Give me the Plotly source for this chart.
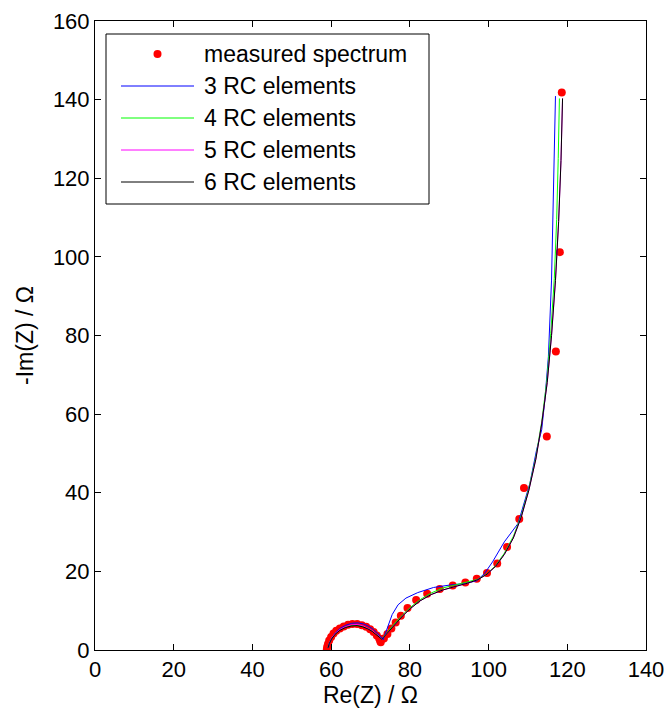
import plotly.graph_objects as go

# measured spectrum
meas_re = [58.9, 59.0, 59.2, 59.5, 60.0, 60.6, 61.3, 62.2, 63.2, 64.3, 65.4, 66.6, 67.8, 68.9,
           69.9, 70.8, 71.6, 72.2, 72.5, 72.6, 73.4, 74.3, 75.3, 76.4, 77.7, 79.4, 81.6, 84.4,
           87.6, 90.9, 94.1, 97.0, 99.6, 102.2, 104.7, 107.8, 109.0, 114.8, 117.1, 118.1, 118.6]
meas_im = [0.2, 0.8, 1.5, 2.4, 3.3, 4.2, 4.9, 5.5, 6.0, 6.4, 6.6, 6.6, 6.3, 5.9,
           5.3, 4.6, 3.7, 2.9, 2.2, 2.0, 2.9, 4.1, 5.5, 7.0, 8.7, 10.7, 12.7, 14.3,
           15.5, 16.4, 17.2, 18.1, 19.6, 22.0, 26.2, 33.3, 41.2, 54.3, 75.9, 101.2, 141.8]

# 3 RC elements fit
rc3_re = [59.3, 59.6, 60.2, 61.1, 62.3, 63.7, 65.2, 66.8, 68.3, 69.6, 70.8, 71.8, 72.6, 73.2,
          73.7, 74.5, 75.5, 77.0, 79.0, 82.0, 86.0, 90.0, 94.0, 97.0, 99.0, 101.0, 104.0,
          107.5, 110.5, 112.2, 113.5, 114.3, 115.2, 116.0, 116.6, 117.0]
rc3_im = [0.6, 1.8, 3.1, 4.4, 5.5, 6.3, 6.8, 6.9, 6.6, 6.0, 5.2, 4.3, 3.4, 2.6,
          4.0, 6.5, 9.0, 11.5, 13.2, 14.6, 15.9, 16.5, 16.9, 17.6, 19.5, 22.4, 27.5,
          32.2, 42.4, 50.9, 56.0, 63.6, 74.6, 94.1, 119.6, 140.9]

# 4 RC elements fit
rc4_re = [59.2, 59.5, 60.1, 61.0, 62.2, 63.6, 65.1, 66.6, 68.0, 69.3, 70.5, 71.5, 72.3, 72.8,
          73.3, 74.2, 75.3, 76.6, 78.2, 80.2, 82.6, 85.4, 88.5, 91.7, 94.7, 97.3, 99.6, 101.8,
          104.0, 106.3, 108.3, 110.2, 112.0, 113.5, 114.8, 115.8, 116.7, 117.3, 117.7, 118.0]
rc4_im = [0.5, 1.7, 2.9, 4.1, 5.1, 5.8, 6.2, 6.3, 6.0, 5.5, 4.8, 4.0, 3.3, 2.9,
          3.3, 4.4, 5.8, 7.3, 9.0, 10.9, 12.8, 14.5, 15.8, 16.6, 17.2, 18.0, 19.4, 21.5,
          24.6, 28.9, 34.2, 41.0, 49.0, 58.0, 68.5, 80.5, 94.5, 109.5, 125.0, 140.3]

# 5 RC elements fit
rc5_re = [59.2, 59.5, 60.1, 61.0, 62.2, 63.6, 65.1, 66.6, 68.0, 69.3, 70.5, 71.5, 72.3, 72.8,
          73.3, 74.2, 75.3, 76.6, 78.2, 80.2, 82.6, 85.4, 88.5, 91.7, 94.7, 97.3, 99.6, 101.8,
          104.0, 106.3, 108.3, 110.2, 112.0, 113.5, 114.9, 116.0, 117.0, 117.8, 118.4, 118.8]
rc5_im = [0.5, 1.7, 3.0, 4.2, 5.2, 5.9, 6.4, 6.5, 6.2, 5.6, 4.9, 4.0, 3.3, 2.9,
          3.2, 4.2, 5.5, 7.0, 8.7, 10.6, 12.5, 14.1, 15.3, 16.2, 17.0, 17.9, 19.3, 21.3,
          24.3, 28.5, 33.8, 40.5, 48.5, 57.5, 68.0, 80.0, 94.0, 109.0, 124.5, 140.3]

# 6 RC elements fit
rc6_re = [59.2, 59.5, 60.1, 61.0, 62.2, 63.6, 65.1, 66.6, 68.0, 69.3, 70.5, 71.5, 72.3, 72.8,
          73.3, 74.2, 75.3, 76.6, 78.2, 80.2, 82.6, 85.4, 88.5, 91.7, 94.7, 97.3, 99.6, 101.8,
          104.0, 106.3, 108.3, 110.2, 112.0, 113.5, 114.9, 116.0, 117.0, 117.8, 118.4, 118.8]
rc6_im = [0.5, 1.6, 2.8, 4.0, 5.0, 5.7, 6.1, 6.2, 5.9, 5.4, 4.7, 3.9, 3.2, 2.8,
          3.2, 4.2, 5.5, 7.0, 8.7, 10.6, 12.5, 14.1, 15.3, 16.2, 17.0, 17.9, 19.3, 21.3,
          24.3, 28.5, 33.8, 40.5, 48.5, 57.5, 68.0, 80.0, 94.0, 109.0, 124.5, 140.3]

series_names = ["measured spectrum", "3 RC elements", "4 RC elements",
                "5 RC elements", "6 RC elements"]
fit_colors = ["#0000ff", "#00ff00", "#ff00ff", "#000000"]
x_ticks = [0, 20, 40, 60, 80, 100, 120, 140]
y_ticks = [0, 20, 40, 60, 80, 100, 120, 140, 160]

FONT = "Liberation Sans, Arial, Helvetica, sans-serif"
W, H = 667, 710
ML, MR, MT, MB = 95, 21, 21, 60
PW, PH = W - ML - MR, H - MT - MB


def px(xp):  # pixel x -> paper x
    return (xp - ML) / PW


def py(yp):  # pixel y -> paper y
    return (H - MB - yp) / PH


fig = go.Figure()
fig.add_trace(go.Scatter(x=meas_re, y=meas_im, mode="markers", name=series_names[0],
                         marker=dict(color="#ff0000", size=8), showlegend=False))
fits = [(rc3_re, rc3_im), (rc4_re, rc4_im), (rc5_re, rc5_im), (rc6_re, rc6_im)]
for (xr, yi), name, col in zip(fits, series_names[1:], fit_colors):
    fig.add_trace(go.Scatter(x=xr, y=yi, mode="lines", name=name,
                             line=dict(color=col, width=1), showlegend=False))

# legend box (drawn as in the original: long line samples)
shapes = [dict(type="rect", xref="paper", yref="paper",
               x0=px(106), x1=px(429), y0=py(204), y1=py(34),
               line=dict(color="black", width=1), fillcolor="white", layer="above")]
annotations = []
row_y = [54, 86, 118, 150, 182]
for i, name in enumerate(series_names):
    yy = row_y[i]
    if i == 0:
        shapes.append(dict(type="circle", xref="paper", yref="paper",
                           x0=px(157.5 - 4), x1=px(157.5 + 4), y0=py(yy + 4), y1=py(yy - 4),
                           fillcolor="#ff0000", line=dict(width=0), layer="above"))
    else:
        shapes.append(dict(type="line", xref="paper", yref="paper",
                           x0=px(121), x1=px(194), y0=py(yy), y1=py(yy),
                           line=dict(color=fit_colors[i - 1], width=1), layer="above"))
    annotations.append(dict(text=name, xref="paper", yref="paper", x=px(202), y=py(yy),
                            xanchor="left", yanchor="middle", showarrow=False,
                            font=dict(size=23, color="black", family=FONT)))

axis_common = dict(showgrid=False, zeroline=False, showline=True, linecolor="black",
                   linewidth=1, mirror="ticks", ticks="inside", ticklen=6,
                   tickcolor="black", automargin=False,
                   tickfont=dict(size=22, color="black", family=FONT))

fig.update_layout(
    width=W, height=H,
    margin=dict(l=ML, r=MR, t=MT, b=MB),
    plot_bgcolor="white", paper_bgcolor="white",
    font=dict(family=FONT, size=22, color="black"),
    xaxis=dict(range=[0, 140], tickvals=x_ticks,
               title=dict(text="Re(Z) / Ω", font=dict(size=23), standoff=2), **axis_common),
    yaxis=dict(range=[0, 160], tickvals=y_ticks,
               title=dict(text="-Im(Z) / Ω", font=dict(size=23), standoff=12), **axis_common),
    shapes=shapes,
    annotations=annotations,
    showlegend=False,
)

fig.write_html("out.html")
